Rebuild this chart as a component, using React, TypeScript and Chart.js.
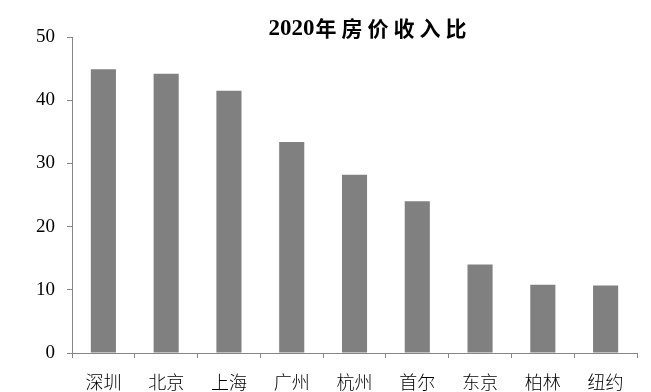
import React, { useEffect, useRef } from "react";
import { Chart, registerables } from "chart.js";

Chart.register(...registerables);

const TITLE_NUM = "2020";
const TITLE_TEXT = "年房价收入比";
const CITIES = ["深圳", "北京", "上海", "广州", "杭州", "首尔", "东京", "柏林", "纽约"];
const RATIOS = [44.9, 44.2, 41.5, 33.4, 28.2, 24.0, 14.0, 10.8, 10.7];
const Y_MIN = 0;
const Y_MAX = 50;
const Y_STEP = 10;

const AXIS_COLOR = "#868686";
const BAR_COLOR = "#808080";

const titlePlugin = {
  id: "customTitle",
  afterDraw(chart: any) {
    const { ctx, chartArea } = chart;
    ctx.save();
    ctx.fillStyle = "#000";
    ctx.textBaseline = "middle";
    ctx.textAlign = "left";
    const numFont = "bold 23px 'Liberation Serif'";
    const cjkFont = "bold 21px 'Noto Sans CJK SC'";
    const sp = 5;
    ctx.font = numFont;
    (ctx as any).letterSpacing = "0px";
    const w1 = ctx.measureText(TITLE_NUM).width;
    ctx.font = cjkFont;
    (ctx as any).letterSpacing = sp + "px";
    const w2 = ctx.measureText(TITLE_TEXT).width - sp;
    const total = w1 + w2;
    const cx = chartArea.left + (chartArea.right - chartArea.left) * 0.522;
    const x0 = cx - total / 2;
    ctx.font = numFont;
    (ctx as any).letterSpacing = "0px";
    ctx.fillText(TITLE_NUM, x0, 29);
    ctx.font = cjkFont;
    (ctx as any).letterSpacing = sp + "px";
    ctx.fillText(TITLE_TEXT, x0 + w1 + 1, 28);
    ctx.restore();
  },
};

export default function App() {
  const ref = useRef<HTMLCanvasElement | null>(null);
  useEffect(() => {
    let chart: Chart | null = null;
    let cancelled = false;
    const fontsReady = Promise.all([
      document.fonts.load("18px 'Liberation Serif'"),
      document.fonts.load("bold 23px 'Liberation Serif'"),
      document.fonts.load("18px 'Noto Sans CJK SC'", "深圳北京"),
      document.fonts.load("300 18px 'Noto Sans CJK SC'", "深圳北京"),
      document.fonts.load("bold 21px 'Noto Sans CJK SC'", "年房价收入比"),
    ]).catch(() => null);
    fontsReady.then(() => {
      if (cancelled || !ref.current) return;
      chart = new Chart(ref.current, {
        type: "bar",
        data: {
          labels: CITIES,
          datasets: [
            {
              data: RATIOS,
              backgroundColor: BAR_COLOR,
              borderWidth: 0,
              categoryPercentage: 1,
              barPercentage: 0.4,
            },
          ],
        },
        options: {
          animation: false,
          responsive: false,
          maintainAspectRatio: false,
          layout: { padding: { top: 37, right: 14, left: 0, bottom: 0 } },
          plugins: {
            legend: { display: false },
            title: { display: false },
            tooltip: { enabled: false },
          },
          scales: {
            x: {
              grid: {
                display: true,
                drawOnChartArea: false,
                drawTicks: true,
                tickLength: 5,
                color: AXIS_COLOR,
                offset: true,
              },
              border: { display: true, color: AXIS_COLOR, width: 1 },
              ticks: {
                color: "#000",
                padding: 13,
                font: { family: "'Noto Sans CJK SC'", size: 18, weight: "300" as any },
                maxRotation: 0,
                autoSkip: false,
              },
              afterFit(scale: any) {
                scale.height = 39;
              },
            },
            y: {
              min: Y_MIN,
              max: Y_MAX,
              grid: {
                display: true,
                drawOnChartArea: false,
                drawTicks: true,
                tickLength: 5,
                color: AXIS_COLOR,
              },
              border: { display: true, color: AXIS_COLOR, width: 1 },
              ticks: {
                stepSize: Y_STEP,
                color: "#000",
                padding: 12,
                font: { family: "'Liberation Serif'", size: 19 },
              },
              afterFit(scale: any) {
                scale.width = 72;
              },
            },
          },
        },
        plugins: [titlePlugin],
      });
    });
    return () => {
      cancelled = true;
      if (chart) chart.destroy();
    };
  }, []);
  return (
    <div style={{ position: "absolute", left: 0, top: 0, width: 651, height: 392, background: "#fff" }}>
      <canvas ref={ref} width={651} height={392} style={{ width: 651, height: 392 }} />
    </div>
  );
}
